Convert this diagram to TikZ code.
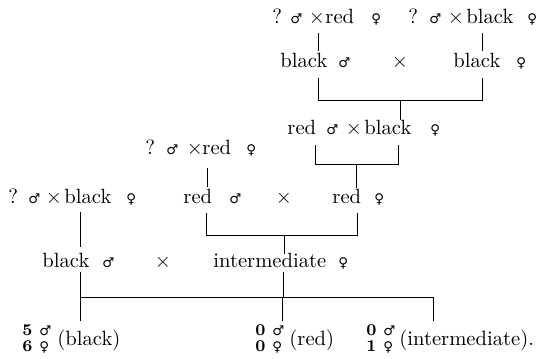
\documentclass[tikz,border=0pt]{standalone}
\usepackage{fontspec}
\newfontfamily\sexfont{DejaVu Sans}
\newcommand{\mle}{{\sexfont\fontsize{6.5}{7}\selectfont ♂}}
\newcommand{\fml}{{\sexfont\fontsize{6.5}{7}\selectfont ♀}}
\newcommand{\num}[1]{{\fontsize{8}{9}\selectfont\bfseries #1}}
\tikzset{
	word/.style={anchor=base west, inner sep=0pt},
	cross/.style={anchor=base, inner sep=0pt},
	tree/.style={line width=.45pt}
}
\begin{document}
\begin{tikzpicture}[x=.485pt, y=-.485pt]
	\useasboundingbox (0,0) rectangle (544,358);
	% first generation
	\node [word] (qa) at (272,24) {?};
	\node [word] (ma) at (290,24) {\mle};
	\node [cross] (xa) at (317,24) {$\times$};
	\node [word] (wa) at (325,24) {red};
	\node [word] (fa) at (371,24) {\fml};
	\node [word] (qb) at (408,24) {?};
	\node [word] (mb) at (429,24) {\mle};
	\node [cross] (xb) at (456,24) {$\times$};
	\node [word] (wb) at (466,24) {black};
	\node [word] (fb) at (527,24) {\fml};
	% their young
	\node [word] (wc) at (280,68) {black};
	\node [word] (mc) at (338,68) {\mle};
	\node [cross] (xc) at (400,68) {$\times$};
	\node [word] (wd) at (453,68) {black};
	\node [word] (fd) at (516,68) {\fml};
	% next cross
	\node [word] (we) at (287,135) {red};
	\node [word] (me) at (326,135) {\mle};
	\node [cross] (xe) at (354,135) {$\times$};
	\node [word] (wf) at (364,135) {black};
	\node [word] (ff) at (430,135) {\fml};
	\node [word] (qg) at (145,154) {?};
	\node [word] (mg) at (166,154) {\mle};
	\node [cross] (xg) at (195,154) {$\times$};
	\node [word] (wg) at (202,154) {red};
	\node [word] (fg) at (246,154) {\fml};
	% third row
	\node [word] (qh) at (8,203) {?};
	\node [word] (mh) at (28,203) {\mle};
	\node [cross] (xh) at (54,203) {$\times$};
	\node [word] (wh) at (64,203) {black};
	\node [word] (fh) at (126,203) {\fml};
	\node [word] (wi) at (183,203) {red};
	\node [word] (mi) at (229,203) {\mle};
	\node [cross] (xi) at (284,203) {$\times$};
	\node [word] (wj) at (332,203) {red};
	\node [word] (fj) at (374,203) {\fml};
	% last pair
	\node [word] (wk) at (42,267) {black};
	\node [word] (mk) at (102,267) {\mle};
	\node [cross] (xk) at (163,267) {$\times$};
	\node [word] (wl) at (213,267) {intermediate};
	\node [word] (fl) at (338,267) {\fml};
	% offspring
	\node [word] (na) at (22,335) {\num{5}};
	\node [word] (sa) at (39,335) {\mle};
	\node [word] (nb) at (22,351) {\num{6}};
	\node [word] (sb) at (39,351) {\fml};
	\node [word] (ka) at (57,345) {(black)};
	\node [word] (nc) at (255,335) {\num{0}};
	\node [word] (sc) at (272,335) {\mle};
	\node [word] (nd) at (255,351) {\num{0}};
	\node [word] (sd) at (272,351) {\fml};
	\node [word] (kb) at (289,345) {(red)};
	\node [word] (ne) at (366,335) {\num{0}};
	\node [word] (se) at (383,335) {\mle};
	\node [word] (nf) at (366,351) {\num{1}};
	\node [word] (sf) at (383,351) {\fml};
	\node [word] (kc) at (399,345) {(intermediate).};
	% joints
	\coordinate (a1) at (318,33);  \coordinate (a2) at (318,51);
	\coordinate (b1) at (482,33);  \coordinate (b2) at (482,51);
	\coordinate (c1) at (318,78);  \coordinate (c2) at (318,100);
	\coordinate (d1) at (482,78);  \coordinate (d2) at (482,100);
	\coordinate (c3) at (400,100); \coordinate (c4) at (400,120);
	\coordinate (e1) at (315,145); \coordinate (e2) at (315,164);
	\coordinate (f1) at (398,145); \coordinate (f2) at (398,164);
	\coordinate (e3) at (356,164); \coordinate (e4) at (356,188);
	\coordinate (g1) at (207,168); \coordinate (g2) at (207,187);
	\coordinate (h1) at (80,212);  \coordinate (h2) at (80,247);
	\coordinate (i1) at (206,213); \coordinate (i2) at (206,235);
	\coordinate (j1) at (357,213); \coordinate (j2) at (357,235);
	\coordinate (i3) at (284,235); \coordinate (i4) at (284,254);
	\coordinate (k1) at (80,272);  \coordinate (k2) at (80,297);
	\coordinate (l1) at (283,272); \coordinate (l2) at (283,297);
	\coordinate (m1) at (433,297);
	\coordinate (o1) at (80,321);  \coordinate (o2) at (282,297);
	\coordinate (o3) at (282,321); \coordinate (o4) at (433,321);
	\draw [tree] (a1) -- (a2) (b1) -- (b2);
	\draw [tree] (c1) -- (c2) -- (d2) -- (d1) (c3) -- (c4);
	\draw [tree] (e1) -- (e2) -- (f2) -- (f1) (e3) -- (e4);
	\draw [tree] (g1) -- (g2);
	\draw [tree] (h1) -- (h2) (i1) -- (i2) -- (j2) -- (j1) (i3) -- (i4);
	\draw [tree] (k1) -- (k2) -- (m1) (l1) -- (l2);
	\draw [tree] (k2) -- (o1) (o2) -- (o3) (m1) -- (o4);
\end{tikzpicture}
\end{document}
